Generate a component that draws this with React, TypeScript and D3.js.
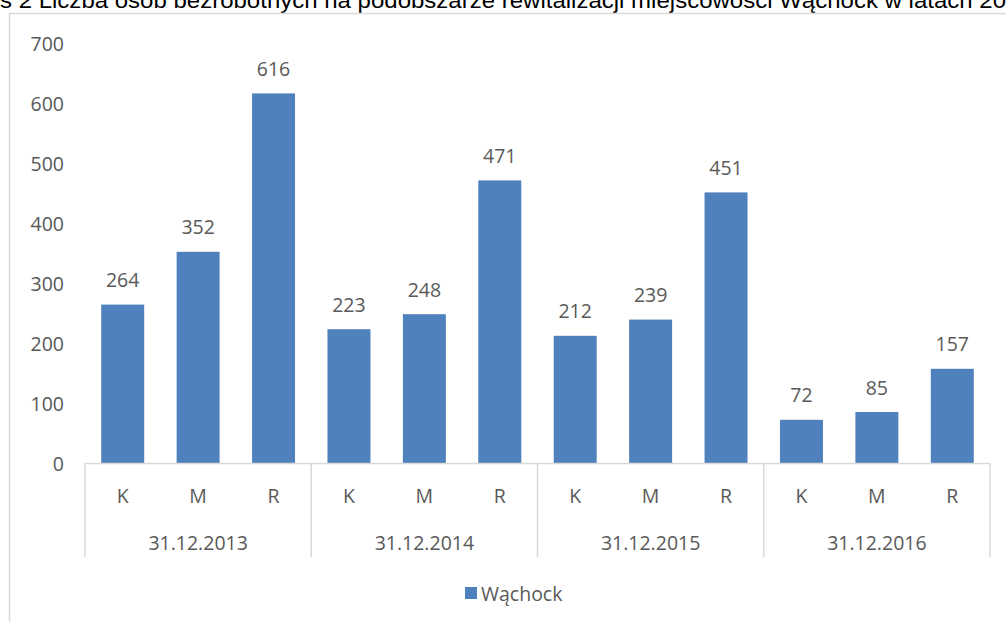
import React from "react"
import * as d3 from "d3"

const dates = ["31.12.2013", "31.12.2014", "31.12.2015", "31.12.2016"]
const subCats = ["K", "M", "R"]
const values = [264, 352, 616, 223, 248, 471, 212, 239, 451, 72, 85, 157]
const yTicks = [0, 100, 200, 300, 400, 500, 600, 700]
const seriesName = "Wąchock"
const title = "s 2 Liczba osób bezrobotnych na podobszarze rewitalizacji miejscowości Wąchock w latach 20"

const W = 1006
const H = 622
const left = 85
const right = 990
const top = 43
const bottom = 463
const blue = "#4f81bd"
const txt = "#595959"
const axisCol = "#d9d9d9"
const font = "'Open Sans', sans-serif"
const fs = 19.5

const App = () => {
  const idx = values.map((_, i) => i)
  const x = d3.scaleBand<number>().domain(idx).range([left, right]).paddingInner(0.43).paddingOuter(0.215)
  const y = d3.scaleLinear().domain([0, 700]).range([bottom, top])
  const groupW = (right - left) / dates.length

  return (
    <svg width={W} height={H} style={{ position: "absolute", left: 0, top: 0, background: "#fff" }}>
      {/* cut-off caption */}
      <text x={0} y={8} fontFamily="'Liberation Sans', Arial, sans-serif" fontSize={22} fill="#000"
        textLength={1006} lengthAdjust="spacingAndGlyphs">{title}</text>
      {/* chart frame */}
      <line x1={9.5} x2={9.5} y1={13} y2={H} stroke={axisCol} strokeWidth={1.5} />
      <line x1={9} x2={W} y1={13.5} y2={13.5} stroke={axisCol} strokeWidth={1.5} />

      {yTicks.map((t) => (
        <text key={t} x={64} y={y(t)} textAnchor="end" dominantBaseline="central"
          fontFamily={font} fontSize={fs} fill={txt}>{t}</text>
      ))}

      {values.map((v, i) => (
        <g key={i}>
          <rect x={x(i)} y={y(v)} width={x.bandwidth()} height={bottom - y(v)} fill={blue} />
          <text x={x(i)! + x.bandwidth() / 2} y={y(v) - 25} textAnchor="middle" dominantBaseline="central"
            fontFamily={font} fontSize={fs} fill={txt}>{v}</text>
          <text x={x(i)! + x.bandwidth() / 2} y={495} textAnchor="middle" dominantBaseline="central"
            fontFamily={font} fontSize={fs} fill={txt}>{subCats[i % subCats.length]}</text>
        </g>
      ))}

      <line x1={left} x2={right} y1={bottom + 0.5} y2={bottom + 0.5} stroke={axisCol} strokeWidth={1.5} />
      {d3.range(dates.length + 1).map((g) => (
        <line key={g} x1={left + g * groupW} x2={left + g * groupW} y1={bottom} y2={557}
          stroke={axisCol} strokeWidth={1.5} />
      ))}
      {dates.map((d, g) => (
        <text key={d} x={left + (g + 0.5) * groupW} y={542} textAnchor="middle" dominantBaseline="central"
          fontFamily={font} fontSize={fs} fill={txt}>{d}</text>
      ))}

      <rect x={465} y={587} width={12} height={12} fill={blue} />
      <text x={481} y={593} dominantBaseline="central" fontFamily={font} fontSize={fs} fill={txt}>{seriesName}</text>
    </svg>
  )
}

export default App
